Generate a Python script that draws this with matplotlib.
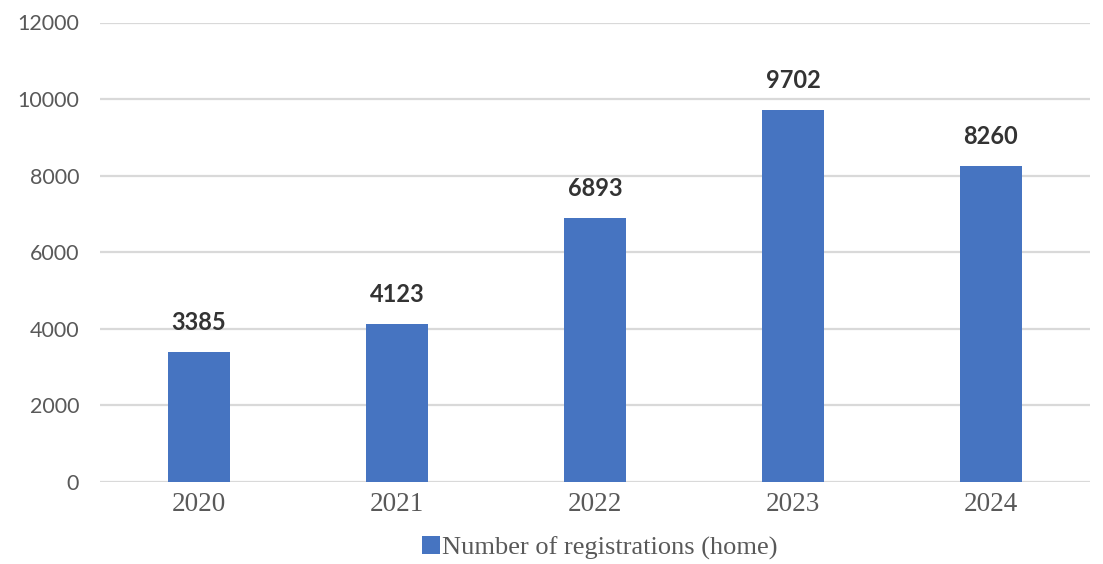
import matplotlib
matplotlib.use("Agg")
import matplotlib.pyplot as plt

years = ["2020", "2021", "2022", "2023", "2024"]
registrations = [3385, 4123, 6893, 9702, 8260]
y_ticks = [0, 2000, 4000, 6000, 8000, 10000, 12000]
series_name = "Number of registrations (home)"

BAR_COLOR = "#4674c1"
GRID_COLOR = "#d9d9d9"
TEXT_GREY = "#595959"

W, H = 1103, 564
fig = plt.figure(figsize=(W / 100, H / 100), dpi=100)
fig.patch.set_facecolor("white")
ax = fig.add_axes([100 / W, 1 - 482 / H, 990 / W, (482 - 22.5) / H])

x = range(len(years))
bars = ax.bar(x, registrations, width=0.31, color=BAR_COLOR, label=series_name, zorder=3)

ax.set_xlim(-0.5, len(years) - 0.5)
ax.set_ylim(0, 12000)
ax.set_yticks(y_ticks)
ax.set_yticklabels([str(v) for v in y_ticks], fontfamily="Lato", fontsize=15.5, color=TEXT_GREY)
ax.set_xticks(list(x))
ax.set_xticklabels(years, fontfamily="Liberation Serif", fontsize=19.5, color=TEXT_GREY)
ax.tick_params(axis="both", length=0)
ax.tick_params(axis="y", pad=15)
ax.tick_params(axis="x", pad=7)

ax.grid(axis="y", color=GRID_COLOR, linewidth=1.6, zorder=0)
for side in ax.spines.values():
    side.set_visible(False)

ax.bar_label(bars, labels=[str(v) for v in registrations], padding=13,
             fontfamily="Lato", fontweight="bold", fontsize=17, color="#333333")

fig.legend(handles=[bars], labels=[series_name], loc="center",
           bbox_to_anchor=(600 / W, 1 - 548 / H), frameon=False,
           prop={"family": "Liberation Serif", "size": 19},
           handlelength=0.65, handleheight=0.65, handletextpad=0.1,
           labelcolor=TEXT_GREY)

fig.savefig("out.png", dpi=100, facecolor="white")
